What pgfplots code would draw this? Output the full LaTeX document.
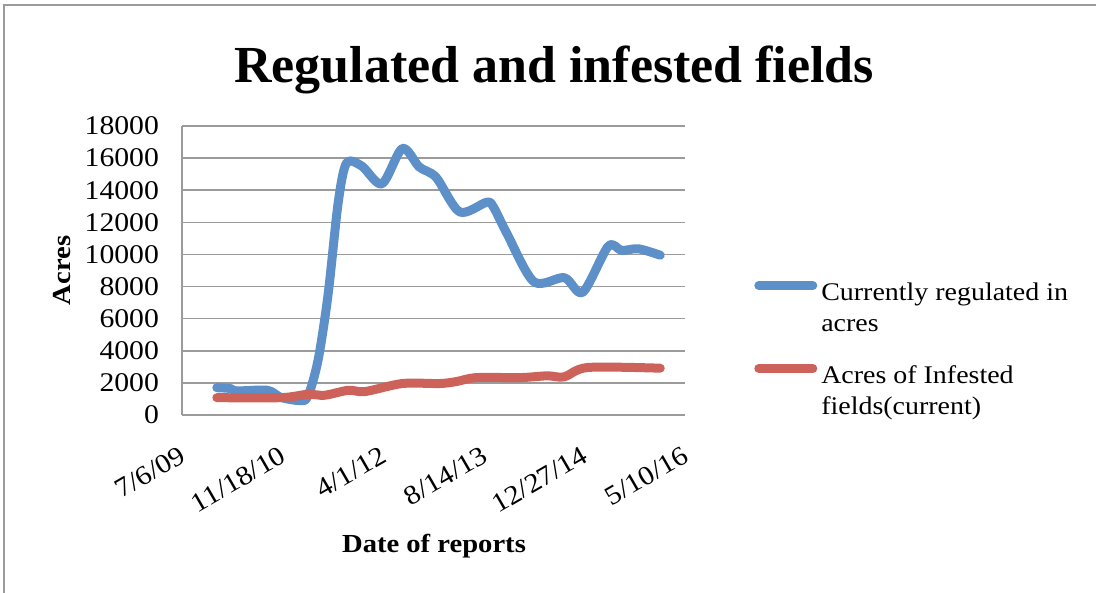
\documentclass[border=0pt]{standalone}
\usepackage{pgfplots}
\pgfplotsset{compat=1.18}
\usepackage{fontspec}
\setmainfont[FakeStretch=1.1]{Liberation Serif}
\newfontfamily\titlefont{Liberation Serif}
\definecolor{blueS}{RGB}{93,143,201}
\definecolor{redS}{RGB}{204,98,90}
\definecolor{gridc}{RGB}{155,155,155}
\begin{document}
\begin{tikzpicture}
\useasboundingbox (0,0) rectangle (548pt,296.5pt);
\draw[gridc, line width=1pt] (2pt,0) -- (2pt,294pt) -- (548pt,294pt);
\begin{axis}[
  at={(91pt,89pt)}, anchor=south west,
  scale only axis, width=251.5pt, height=144.5pt,
  xmin=40000, xmax=42500, ymin=0, ymax=18000,
  xtick={40000,40500,41000,41500,42000,42500},
  xticklabels={7/6/09,11/18/10,4/1/12,8/14/13,12/27/14,5/10/16},
  ytick={0,2000,...,18000},
  scaled x ticks=false, scaled y ticks=false,
  /pgf/number format/assume math mode=true,
  /pgf/number format/set thousands separator={},
  ymajorgrids, grid style={gridc, line width=0.75pt},
  axis x line*=bottom, axis y line*=left,
  axis line style={gridc, line width=0.75pt, -},
  major tick length=0pt,
  yticklabel style={font=\fontsize{13.5}{15}\selectfont, xshift=-8pt},
  xticklabel style={font=\fontsize{13.5}{15}\selectfont, rotate=30, anchor=north east, inner sep=0pt, xshift=-9pt, yshift=-12pt},
  title={Regulated and infested fields},
  title style={font=\titlefont\bfseries\fontsize{26}{30}\selectfont, at={(axis description cs:0.74,1.108)}, anchor=base},
  xlabel={Date of reports},
  xlabel style={font=\bfseries\fontsize{13}{15}\selectfont, at={(axis description cs:0.501,-0.475)}, anchor=base},
  ylabel={Acres},
  ylabel style={font=\bfseries\fontsize{13}{15}\selectfont, at={(axis description cs:-0.2386,0.5)}, anchor=center},
  legend style={at={(axis description cs:1.133,0.5)}, anchor=north west, draw=none, fill=none,
    font=\fontsize{12.7}{15.5}\selectfont, row sep=25pt, cells={anchor=west}, inner xsep=1pt},
  legend image code/.code={\draw[#1, line cap=round] (0pt,0.6ex) -- (27pt,0.6ex);},
]
\addplot[blueS, line width=4.5pt, smooth, tension=0.5, line join=round, line cap=round] coordinates {
(40173,1700) (40240,1650) (40273,1500) (40424,1540) (40491,1100) (40583,900)
(40625,1150) (40676,3400) (40726,7500) (40776,13200) (40818,15700) (40894,15500)
(40994,14400) (41095,16600) (41179,15450) (41263,14800) (41380,12650) (41514,13250)
(41548,12950) (41615,11300) (41749,8300) (41900,8550) (41992,7650) (42118,10500)
(42185,10250) (42269,10350) (42377,9950)
};
\addlegendentry{\begin{tabular}[t]{@{}l@{}}Currently regulated in\\acres\end{tabular}}
\addplot[redS, line width=4.5pt, smooth, tension=0.5, line join=round, line cap=round] coordinates {
(40173,1080) (40491,1080) (40625,1290) (40709,1230) (40827,1540) (40910,1460)
(41095,1960) (41279,1960) (41363,2080) (41464,2330) (41682,2330) (41816,2440)
(41900,2375) (42017,2960) (42377,2915)
};
\addlegendentry{\begin{tabular}[t]{@{}l@{}}Acres of Infested\\fields(current)\end{tabular}}
\end{axis}
\end{tikzpicture}
\end{document}
